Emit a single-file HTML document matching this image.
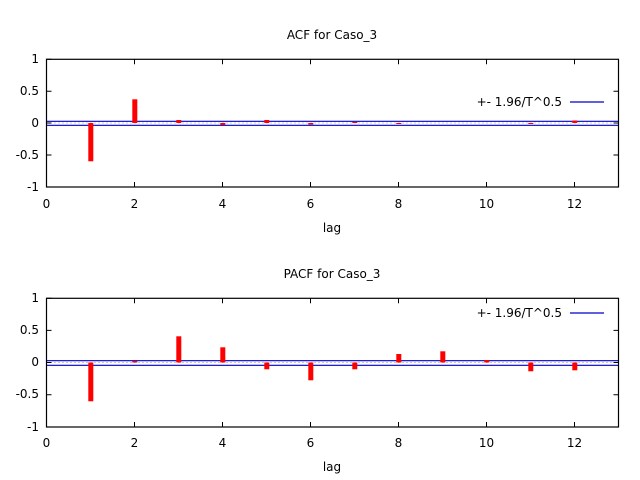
<!DOCTYPE html>
<html><head><style>body{margin:0;background:#fff}svg{display:block}text{font-family:"DejaVu Sans","Liberation Sans",sans-serif;font-size:12px;fill:#000}</style></head><body>
<svg width="640" height="480" viewBox="0 0 640 480" xmlns="http://www.w3.org/2000/svg">
<text x="332" y="39" text-anchor="middle">ACF for Caso_3</text>
<line x1="46.5" y1="123" x2="618.5" y2="123" stroke="#999" stroke-dasharray="1,3" stroke-width="1"/>
<line x1="46.5" y1="121.3" x2="618.5" y2="121.3" stroke="#0000cc" stroke-width="1.2"/>
<line x1="46.5" y1="125.3" x2="618.5" y2="125.3" stroke="#0000cc" stroke-width="1.2"/>
<g fill="#f00">
<rect x="88.3" y="123" width="5" height="38.3"/>
<rect x="132.3" y="99.3" width="5" height="23.7"/>
<rect x="176.3" y="120" width="5" height="3"/>
<rect x="220.3" y="123" width="5" height="2"/>
<rect x="264.3" y="120" width="5" height="3"/>
<rect x="308.3" y="123" width="5" height="1.5"/>
<rect x="352.3" y="122" width="5" height="1"/>
<rect x="396.3" y="123" width="5" height="1"/>
<rect x="528.3" y="123" width="5" height="1"/>
<rect x="572.3" y="120.5" width="5" height="2.5"/>
</g>
<g stroke="#000" stroke-width="1">
<path d="M46.5 59.3V187M46.5 123h5M46.5 91.2h5M46.5 155h5M46.5 59.3h5M46.5 187h5M618.5 123h-5M618.5 91.2h-5M618.5 155h-5"/>
<path d="M134.5 59.3v5M222.5 59.3v5M310.5 59.3v5M398.5 59.3v5M486.5 59.3v5M574.5 59.3v5M134.5 187v-5M222.5 187v-5M310.5 187v-5M398.5 187v-5M486.5 187v-5M574.5 187v-5"/>
</g>
<rect x="46.5" y="59.3" width="572" height="127.7" fill="none" stroke="#000" stroke-width="1.2"/>
<text x="562" y="106" text-anchor="end">+- 1.96/T^0.5</text>
<line x1="570" y1="102" x2="604" y2="102" stroke="#0000cc" stroke-width="1.2"/>
<g text-anchor="end"><text x="39" y="63">1</text><text x="39" y="95">0.5</text><text x="39" y="127">0</text><text x="39" y="159">-0.5</text><text x="39" y="191">-1</text></g>
<g text-anchor="middle"><text x="46.5" y="208">0</text><text x="134.5" y="208">2</text><text x="222.5" y="208">4</text><text x="310.5" y="208">6</text><text x="398.5" y="208">8</text><text x="486.5" y="208">10</text><text x="574.5" y="208">12</text><text x="332" y="232">lag</text></g>
<text x="332" y="278" text-anchor="middle">PACF for Caso_3</text>
<line x1="46.5" y1="362.5" x2="618.5" y2="362.5" stroke="#999" stroke-dasharray="1,3" stroke-width="1"/>
<line x1="46.5" y1="360.7" x2="618.5" y2="360.7" stroke="#0000cc" stroke-width="1.2"/>
<line x1="46.5" y1="365.3" x2="618.5" y2="365.3" stroke="#0000cc" stroke-width="1.2"/>
<g fill="#f00">
<rect x="88.3" y="362.5" width="5" height="38.8"/>
<rect x="132.3" y="361" width="5" height="1.5"/>
<rect x="176.3" y="336.3" width="5" height="26.2"/>
<rect x="220.3" y="347.3" width="5" height="15.2"/>
<rect x="264.3" y="362.5" width="5" height="6.8"/>
<rect x="308.3" y="362.5" width="5" height="17.8"/>
<rect x="352.3" y="362.5" width="5" height="6.8"/>
<rect x="396.3" y="354" width="5" height="8.5"/>
<rect x="440.3" y="351.3" width="5" height="11.2"/>
<rect x="484.3" y="360" width="5" height="2.5"/>
<rect x="528.3" y="362.5" width="5" height="8.8"/>
<rect x="572.3" y="362.5" width="5" height="7.8"/>
</g>
<g stroke="#000" stroke-width="1">
<path d="M46.5 298.3V427M46.5 362.5h5M46.5 330.4h5M46.5 394.7h5M46.5 298.3h5M46.5 427h5M618.5 362.5h-5M618.5 330.4h-5M618.5 394.7h-5"/>
<path d="M134.5 298.3v5M222.5 298.3v5M310.5 298.3v5M398.5 298.3v5M486.5 298.3v5M574.5 298.3v5M134.5 427v-5M222.5 427v-5M310.5 427v-5M398.5 427v-5M486.5 427v-5M574.5 427v-5"/>
</g>
<rect x="46.5" y="298.3" width="572" height="128.7" fill="none" stroke="#000" stroke-width="1.2"/>
<text x="562" y="317" text-anchor="end">+- 1.96/T^0.5</text>
<line x1="570" y1="313" x2="604" y2="313" stroke="#0000cc" stroke-width="1.2"/>
<g text-anchor="end"><text x="39" y="302">1</text><text x="39" y="334">0.5</text><text x="39" y="366">0</text><text x="39" y="398">-0.5</text><text x="39" y="431">-1</text></g>
<g text-anchor="middle"><text x="46.5" y="447">0</text><text x="134.5" y="447">2</text><text x="222.5" y="447">4</text><text x="310.5" y="447">6</text><text x="398.5" y="447">8</text><text x="486.5" y="447">10</text><text x="574.5" y="447">12</text><text x="332" y="471">lag</text></g>
</svg>
</body></html>
